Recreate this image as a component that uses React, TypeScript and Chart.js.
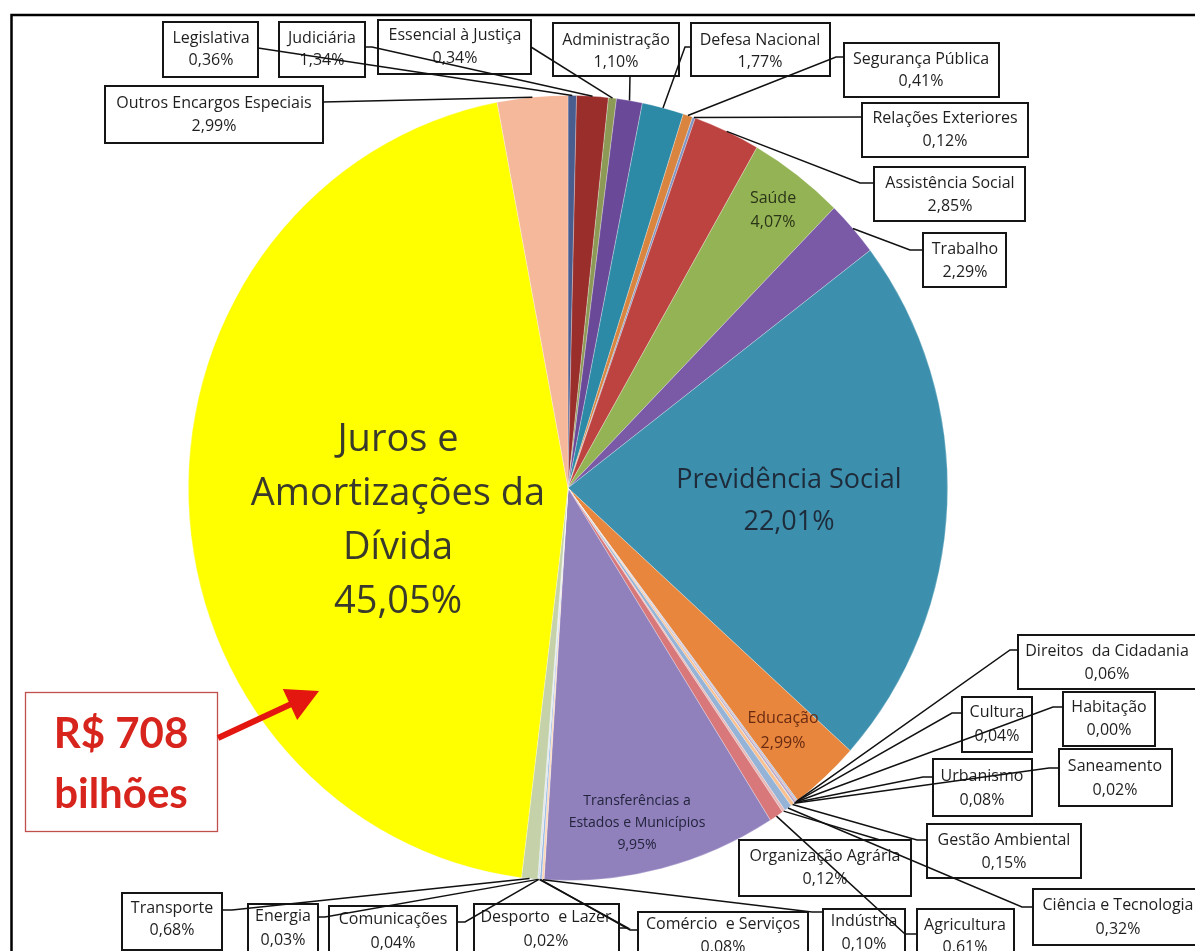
import React, { useEffect, useRef } from "react";
import { Chart, registerables } from "chart.js";

Chart.register(...registerables);

// ---------- DATA ----------
const categories: string[] = [
  "Legislativa",
  "Judiciária",
  "Essencial à Justiça",
  "Administração",
  "Defesa Nacional",
  "Segurança Pública",
  "Relações Exteriores",
  "Assistência Social",
  "Saúde",
  "Trabalho",
  "Previdência Social",
  "Educação",
  "Direitos  da Cidadania",
  "Cultura",
  "Habitação",
  "Urbanismo",
  "Saneamento",
  "Gestão Ambiental",
  "Ciência e Tecnologia",
  "Organização Agrária",
  "Agricultura",
  "Transferências a Estados e Municípios",
  "Indústria",
  "Comércio  e Serviços",
  "Desporto  e Lazer",
  "Comunicações",
  "Energia",
  "Transporte",
  "Juros e Amortizações da Dívida",
  "Outros Encargos Especiais",
];

const values: number[] = [
  0.36, 1.34, 0.34, 1.1, 1.77, 0.41, 0.12, 2.85, 4.07, 2.29, 22.01, 2.99,
  0.06, 0.04, 0.0, 0.08, 0.02, 0.15, 0.32, 0.12, 0.61, 9.95, 0.1, 0.08,
  0.02, 0.04, 0.03, 0.68, 45.05, 2.99,
];

const sliceColors: string[] = [
  "#4a5d8f", "#9a2e2b", "#8c9a55", "#6a4a98", "#2d8aa6", "#d9853f",
  "#7d94c4", "#bd4340", "#94b354", "#7a59a6", "#3d90ad", "#e7863c",
  "#a8bede", "#d99694", "#c3d69b", "#b3a2c7", "#93cddd", "#fac090",
  "#95b3d7", "#e6b9b8", "#d9787a", "#9080bc", "#fcd5b5", "#8eb4e3",
  "#d7e4bd", "#ccc1da", "#b7dee8", "#c4d1a9", "#ffff00", "#f6b89b",
];

const annotationLine1 = "R$ 708";
const annotationLine2 = "bilhões";

const pct = (v: number) => v.toFixed(2).replace(".", ",") + "%";

// ---------- LAYOUT (annotation placement) ----------
const FONT = '"Open Sans", "Noto Sans", sans-serif';
const SX = 0.967; // horizontal squash of the pie (ellipse)

type BoxLabel = {
  i: number;
  box: [number, number, number, number];
  tx: number;
  ty: [number, number];
  path: [number, number][];
};

const boxLabels: BoxLabel[] = [
  { i: 0, box: [163, 22, 258, 77], tx: 211, ty: [38, 60], path: [[258, 48]] },
  { i: 1, box: [279, 22, 365, 77], tx: 322, ty: [38, 60], path: [[365, 47], [372, 47]] },
  { i: 2, box: [378, 20, 531, 74], tx: 455, ty: [35, 58], path: [[531, 47]] },
  { i: 3, box: [553, 23, 679, 76], tx: 616, ty: [40, 62], path: [[630, 76]] },
  { i: 4, box: [691, 23, 830, 76], tx: 760, ty: [40, 62], path: [[691, 47], [685, 47]] },
  { i: 5, box: [844, 43, 999, 97], tx: 921, ty: [59, 81], path: [[844, 57], [836, 57]] },
  { i: 6, box: [862, 103, 1028, 157], tx: 945, ty: [118, 141], path: [[862, 117]] },
  { i: 7, box: [874, 167, 1025, 221], tx: 950, ty: [183, 206], path: [[874, 183], [860, 183]] },
  { i: 9, box: [923, 233, 1006, 287], tx: 965, ty: [249, 272], path: [[923, 250], [910, 250]] },
  { i: 29, box: [105, 86, 323, 143], tx: 214, ty: [103, 126], path: [[323, 102]] },
  { i: 12, box: [1018, 635, 1199, 689], tx: 1107, ty: [651, 674], path: [[1018, 650], [1010, 650]] },
  { i: 13, box: [962, 697, 1032, 752], tx: 997, ty: [712, 736], path: [[962, 713], [952, 713]] },
  { i: 14, box: [1063, 692, 1155, 746], tx: 1109, ty: [707, 730], path: [[1063, 707], [1053, 707]] },
  { i: 15, box: [933, 759, 1032, 816], tx: 982, ty: [776, 800], path: [[933, 777], [923, 777]] },
  { i: 16, box: [1059, 749, 1172, 806], tx: 1115, ty: [766, 790], path: [[1059, 768], [1049, 768]] },
  { i: 17, box: [927, 824, 1081, 878], tx: 1004, ty: [840, 863], path: [[927, 840], [917, 840]] },
  { i: 18, box: [1033, 889, 1199, 945], tx: 1118, ty: [905, 929], path: [[1033, 907], [1022, 907]] },
  { i: 19, box: [739, 840, 911, 896], tx: 825, ty: [856, 879], path: [[880, 840]] },
  { i: 20, box: [917, 909, 1014, 965], tx: 965, ty: [925, 947], path: [[917, 934], [905, 934]] },
  { i: 22, box: [823, 909, 905, 965], tx: 864, ty: [921, 944], path: [[823, 912], [812, 912]] },
  { i: 23, box: [638, 912, 808, 965], tx: 723, ty: [924, 947], path: [[638, 930], [630, 930]] },
  { i: 24, box: [474, 904, 619, 965], tx: 546, ty: [917, 941], path: [[619, 928], [628, 928]] },
  { i: 25, box: [329, 906, 457, 965], tx: 393, ty: [919, 943], path: [[457, 922], [465, 922]] },
  { i: 26, box: [248, 904, 318, 965], tx: 283, ty: [916, 940], path: [[318, 917], [325, 917]] },
  { i: 27, box: [122, 893, 222, 950], tx: 172, ty: [908, 930], path: [[222, 910], [232, 910]] },
];

type InLabel = { i: number; lines: string[]; x: number; y: number[]; size: number; color: string };

const insideLabels: InLabel[] = [
  { i: 28, lines: ["Juros e", "Amortizações da", "Dívida"], x: 398, y: [440, 494, 548, 602], size: 38, color: "#3a3a2c" },
  { i: 10, lines: ["Previdência Social"], x: 789, y: [480, 522], size: 27, color: "#1d2b3a" },
  { i: 8, lines: ["Saúde"], x: 773, y: [198, 222], size: 16, color: "#2a3418" },
  { i: 11, lines: ["Educação"], x: 783, y: [718, 743], size: 16, color: "#6a2a12" },
  { i: 21, lines: ["Transferências a", "Estados e Municípios"], x: 637, y: [801, 823, 845], size: 14, color: "#23243d" },
];

function drawAnnotations(chart: any) {
  const ctx: CanvasRenderingContext2D = chart.ctx;
  const meta = chart.getDatasetMeta(0);
  const rim = (i: number): [number, number] => {
    const a = meta.data[i].getProps(["x", "y", "startAngle", "endAngle", "outerRadius"], true);
    const mid = (a.startAngle + a.endAngle) / 2;
    return [a.x + SX * a.outerRadius * Math.cos(mid), a.y + a.outerRadius * Math.sin(mid)];
  };

  ctx.save();
  // outer frame
  ctx.strokeStyle = "#000";
  ctx.lineWidth = 2.5;
  ctx.strokeRect(11.5, 15, 1400, 1400);

  // inside labels
  ctx.textAlign = "center";
  ctx.textBaseline = "middle";
  for (const L of insideLabels) {
    ctx.fillStyle = L.color;
    ctx.font = `${L.size}px ${FONT}`;
    const lines = [...L.lines, pct(values[L.i])];
    lines.forEach((t, k) => ctx.fillText(t, L.x, L.y[k]));
  }

  // boxes
  for (const B of boxLabels) {
    const [x1, y1, x2, y2] = B.box;
    ctx.fillStyle = "#fff";
    ctx.fillRect(x1, y1, x2 - x1, y2 - y1);
    ctx.strokeStyle = "#151515";
    ctx.lineWidth = 2;
    ctx.strokeRect(x1, y1, x2 - x1, y2 - y1);
    ctx.fillStyle = "#1f1f1f";
    ctx.font = `16px ${FONT}`;
    ctx.fillText(categories[B.i], B.tx, B.ty[0]);
    ctx.fillText(pct(values[B.i]), B.tx, B.ty[1]);
  }
  // leader lines
  ctx.strokeStyle = "#111";
  ctx.lineWidth = 1.5;
  for (const B of boxLabels) {
    const p = rim(B.i);
    ctx.beginPath();
    ctx.moveTo(B.path[0][0], B.path[0][1]);
    for (let k = 1; k < B.path.length; k++) ctx.lineTo(B.path[k][0], B.path[k][1]);
    ctx.lineTo(p[0], p[1]);
    ctx.stroke();
  }

  // R$ 708 bilhões callout
  ctx.fillStyle = "#fff";
  ctx.fillRect(25, 692, 192, 139);
  ctx.strokeStyle = "#c0504d";
  ctx.lineWidth = 1.3;
  ctx.strokeRect(25.5, 692.5, 192, 139);
  ctx.fillStyle = "#d7251d";
  ctx.font = `bold 42px Lato, ${FONT}`;
  ctx.fillText(annotationLine1, 121, 734);
  ctx.fillText(annotationLine2, 121, 794);

  // arrow
  const tail = [218, 738];
  const tip = [319, 691];
  const dx = tip[0] - tail[0], dy = tip[1] - tail[1];
  const len = Math.hypot(dx, dy);
  const ux = dx / len, uy = dy / len;
  const hl = 32, hw = 17;
  const bx = tip[0] - ux * hl, by = tip[1] - uy * hl;
  ctx.strokeStyle = "#e3170f";
  ctx.lineWidth = 6;
  ctx.beginPath();
  ctx.moveTo(tail[0], tail[1]);
  ctx.lineTo(bx + ux * 2, by + uy * 2);
  ctx.stroke();
  ctx.fillStyle = "#e3170f";
  ctx.beginPath();
  ctx.moveTo(tip[0], tip[1]);
  ctx.lineTo(bx - uy * hw, by + ux * hw);
  ctx.lineTo(bx + uy * hw, by - ux * hw);
  ctx.closePath();
  ctx.fill();
  ctx.restore();
}

const ellipsePlugin = {
  id: "ellipseAndLabels",
  beforeDatasetsDraw(chart: any) {
    const meta = chart.getDatasetMeta(0);
    const a = meta.data[0];
    const ctx = chart.ctx;
    ctx.save();
    ctx.translate(a.x, a.y);
    ctx.scale(SX, 1);
    ctx.translate(-a.x, -a.y);
  },
  afterDatasetsDraw(chart: any) {
    chart.ctx.restore();
  },
  afterDraw(chart: any) {
    drawAnnotations(chart);
  },
  beforeDraw(chart: any) {
    const ctx = chart.ctx;
    ctx.save();
    ctx.fillStyle = "#fff";
    ctx.fillRect(0, 0, chart.width, chart.height);
    ctx.restore();
  },
};

export default function App() {
  const ref = useRef<HTMLCanvasElement | null>(null);
  useEffect(() => {
    if (!ref.current) return;
    const chart = new Chart(ref.current, {
      type: "pie",
      data: {
        labels: categories,
        datasets: [
          {
            data: values,
            backgroundColor: sliceColors,
            borderColor: "rgba(255,255,255,0.35)",
            borderWidth: 0.8,
          },
        ],
      },
      options: {
        responsive: false,
        animation: false,
        devicePixelRatio: 1,
        layout: { padding: { left: 175, right: 234, top: 95, bottom: 70 } },
        plugins: {
          legend: { display: false },
          tooltip: { enabled: false },
          title: { display: false },
        },
      },
      plugins: [ellipsePlugin],
    });
    return () => chart.destroy();
  }, []);
  return (
    <div style={{ position: "absolute", left: 0, top: 0, width: 1195, height: 951, overflow: "hidden", background: "#fff" }}>
      <canvas ref={ref} width={1195} height={951} style={{ display: "block" }} />
    </div>
  );
}
